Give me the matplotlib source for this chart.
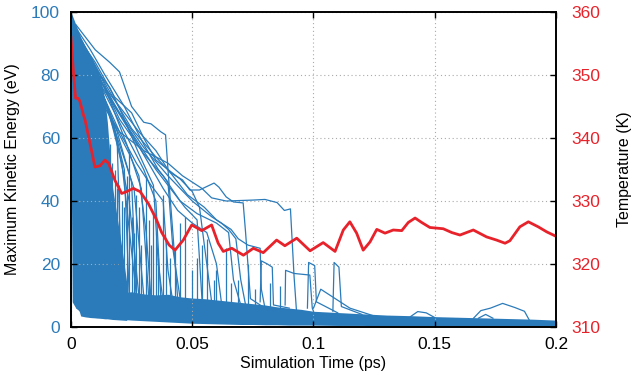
import matplotlib
matplotlib.use('Agg')
import matplotlib.pyplot as plt

plt.rcParams['font.family'] = ['Liberation Sans', 'DejaVu Sans']
plt.rcParams['font.size'] = 11.5

blue = '#2b7bba'
red = '#e8222a'

# temperature (K) vs simulation time (ps)
temp_t = [0.0, 0.001, 0.0019, 0.003, 0.0037, 0.0051, 0.0058, 0.0078, 0.0099, 0.012, 0.014,
          0.0155, 0.0181, 0.0209, 0.023, 0.0257, 0.0285, 0.0319, 0.0353, 0.0374, 0.0405,
          0.0429, 0.0463, 0.0498, 0.0539, 0.058, 0.0607, 0.0628, 0.0663, 0.0711, 0.0752,
          0.0793, 0.0848, 0.0882, 0.0931, 0.0986, 0.104, 0.1089, 0.1123, 0.115, 0.1178,
          0.1205, 0.1233, 0.1261, 0.1295, 0.1329, 0.1364, 0.1391, 0.1419, 0.1446, 0.148,
          0.1535, 0.157, 0.1604, 0.1659, 0.1714, 0.1755, 0.179, 0.181, 0.1851, 0.1886,
          0.1927, 0.1962, 0.2]
temp_k = [356.0, 350.5, 346.3, 346.3, 345.8, 343.7, 342.9, 339.2, 335.4, 335.6, 336.5,
          336.0, 333.3, 331.2, 331.5, 332.0, 331.5, 329.6, 327.0, 325.0, 323.0,
          322.2, 323.8, 326.2, 325.3, 326.2, 323.3, 322.0, 322.5, 321.4, 322.5,
          321.8, 323.8, 322.9, 324.1, 322.1, 323.4, 322.0, 325.4, 326.7, 324.9,
          322.2, 323.5, 325.5, 324.9, 325.4, 325.3, 326.6, 327.3, 326.6, 325.8,
          325.6, 325.0, 324.6, 325.4, 324.3, 323.8, 323.3, 323.7, 325.9, 326.7,
          325.9, 325.1, 324.4]

# dense early bundle of kinetic-energy traces (envelope, eV)
blob_t = [0.0, 0.0005, 0.002, 0.003, 0.004, 0.006, 0.008, 0.010, 0.012, 0.013, 0.014,
          0.015, 0.016, 0.017, 0.019, 0.021, 0.023]
blob_top = [100, 99, 96, 94, 92, 89, 86, 83, 80, 76, 72, 65, 55, 45, 35, 25, 14]
blob_bottom = [60, 8, 6, 6, 3.5, 3.2, 3.0, 2.9, 2.8, 2.7, 2.6, 2.6, 2.5, 2.4, 2.3, 2.2, 2.1]

# low band of thermalised traces (eV)
band_t = [0.002, 0.006, 0.01, 0.015, 0.02, 0.025, 0.03, 0.035, 0.04, 0.045, 0.05, 0.055,
          0.06, 0.065, 0.07, 0.075, 0.08, 0.085, 0.09, 0.095, 0.1, 0.11, 0.12, 0.13,
          0.14, 0.15, 0.16, 0.17, 0.18, 0.19, 0.2]
band_top = [11, 12, 11.5, 11, 10.8, 11.2, 10.5, 10.2, 10.4, 9.6, 9.2, 9.0, 8.6, 8.2, 7.8,
            7.4, 7.0, 6.4, 6.0, 5.6, 5.0, 4.6, 4.2, 3.8, 3.6, 3.3, 3.1, 2.9, 2.7, 2.5, 2.2]
band_bottom = [6, 3.5, 3.0, 2.8, 2.5, 2.2, 2.0, 1.8, 1.6, 1.4, 1.2, 1.1, 1.0, 0.9, 0.8,
               0.8, 0.7, 0.7, 0.6, 0.6, 0.6, 0.5, 0.5, 0.4, 0.4, 0.4, 0.3, 0.3, 0.3, 0.3, 0.3]

# individual traces that leave the bundle (time ps, energy eV)
ke_traces = [
    ([0.001, 0.006, 0.012, 0.02, 0.03, 0.04, 0.046, 0.05, 0.054, 0.058, 0.064, 0.075, 0.08,
      0.085, 0.088, 0.0905, 0.092, 0.093, 0.11, 0.15, 0.2],
     [96, 88, 72, 62, 56, 52, 48, 46, 44, 41, 40, 40.3, 40.5, 39.5, 37, 37.5, 16, 5, 3, 2, 1.2]),
    ([0.002, 0.008, 0.015, 0.025, 0.035, 0.041, 0.046, 0.049, 0.053, 0.059, 0.061, 0.064,
      0.067, 0.071, 0.072, 0.074, 0.08, 0.12],
     [94, 86, 76, 63, 54, 49, 46.7, 43.5, 43.5, 45.7, 44.4, 41.3, 39.7, 39.4, 30, 9, 6, 3]),
    ([0.002, 0.01, 0.016, 0.02, 0.025, 0.03, 0.033, 0.037, 0.039, 0.040, 0.042, 0.044, 0.05],
     [96, 88, 84, 81, 70, 65, 64.5, 62, 61, 50, 30, 9, 6]),
    ([0.003, 0.01, 0.018, 0.025, 0.03, 0.035, 0.045, 0.05, 0.053, 0.056, 0.058, 0.065],
     [92, 84, 73, 68, 60, 53, 47, 43, 38, 20, 8, 6]),
    ([0.004, 0.012, 0.02, 0.028, 0.035, 0.04, 0.048, 0.055, 0.06, 0.066, 0.069, 0.073, 0.078,
      0.0785, 0.08, 0.09],
     [90, 78, 70, 62, 56, 50, 42, 38, 34, 31, 28, 26, 25, 12, 6, 5]),
    ([0.003, 0.01, 0.02, 0.03, 0.038, 0.045, 0.052, 0.06, 0.065, 0.067, 0.07],
     [93, 82, 66, 55, 48, 40, 36, 33, 30, 15, 7]),
    ([0.002, 0.008, 0.014, 0.022, 0.03, 0.036, 0.04, 0.042, 0.045],
     [95, 88, 80, 70, 58, 50, 46, 25, 9]),
    ([0.004, 0.01, 0.016, 0.022, 0.028, 0.034, 0.036, 0.038],
     [90, 82, 76, 66, 55, 45, 20, 8]),
    ([0.005, 0.012, 0.02, 0.03, 0.04, 0.05, 0.058, 0.062, 0.065, 0.068, 0.07, 0.072],
     [88, 77, 68, 57, 48, 40, 35, 33, 31, 28, 15, 7]),
    ([0.004, 0.012, 0.018, 0.026, 0.032, 0.038, 0.044, 0.05, 0.056, 0.06, 0.062],
     [89, 80, 70, 60, 52, 44, 37, 33, 30, 20, 8]),
    ([0.003, 0.008, 0.013, 0.02, 0.027, 0.033, 0.038, 0.04, 0.042],
     [92, 85, 74, 62, 52, 45, 40, 18, 8]),
    ([0.006, 0.012, 0.018, 0.024, 0.028, 0.031, 0.033],
     [86, 75, 64, 55, 48, 30, 9]),
    ([0.005, 0.011, 0.017, 0.023, 0.029, 0.035, 0.041, 0.047, 0.052, 0.054],
     [88, 80, 72, 64, 57, 50, 44, 38, 34, 9]),
    ([0.007, 0.014, 0.02, 0.026, 0.03], [84, 72, 58, 44, 10]),
    ([0.004, 0.01, 0.015, 0.019, 0.021], [90, 80, 70, 60, 10]),
    ([0.005, 0.012, 0.017, 0.022, 0.024], [88, 76, 66, 50, 10]),
    ([0.006, 0.013, 0.019, 0.025, 0.027], [86, 74, 62, 46, 10]),
    ([0.003, 0.009, 0.016, 0.023, 0.029, 0.032], [92, 84, 72, 58, 44, 10]),
    ([0.008, 0.015, 0.021, 0.027], [82, 70, 52, 10]),
    ([0.005, 0.014, 0.022, 0.03, 0.035, 0.037], [88, 74, 62, 50, 40, 10]),
    ([0.01, 0.018, 0.024, 0.028], [80, 62, 40, 10]),
    # rectangular pulses after 0.075 ps
    ([0.078, 0.0785, 0.081, 0.083, 0.0835, 0.09], [8, 21, 20, 19, 7, 6]),
    ([0.0883, 0.0885, 0.092, 0.0985, 0.0995, 0.1], [7, 18, 17, 16.5, 6, 5]),
    ([0.0975, 0.098, 0.1005, 0.1012, 0.11], [6, 20.5, 19.5, 8, 4.5]),
    ([0.108, 0.1085, 0.1105, 0.1115, 0.12], [5, 20.5, 19, 6.5, 4]),
    ([0.1, 0.103, 0.115, 0.125], [6, 12, 6, 3.5]),
    # late bumps
    ([0.14, 0.143, 0.1465, 0.15], [3.3, 4.9, 4.5, 3.0]),
    ([0.166, 0.169, 0.173, 0.178, 0.183, 0.187, 0.189], [2.8, 5.2, 6, 7.5, 6.2, 5, 2.2]),
    ([0.168, 0.171, 0.174], [2.8, 4.0, 2.8]),
]

# short vertical spikes out of the low band
spike_t = [0.016, 0.017, 0.018, 0.019, 0.02, 0.021, 0.022, 0.023, 0.024, 0.025, 0.026,
           0.027, 0.028, 0.029, 0.031, 0.032, 0.033, 0.034, 0.035, 0.036, 0.038, 0.039,
           0.041, 0.043, 0.045, 0.047, 0.05, 0.052, 0.054, 0.056, 0.059, 0.06, 0.064,
           0.066, 0.069, 0.073, 0.076, 0.082, 0.086]
spike_top = [58, 52, 50, 44, 45, 40, 38, 48, 55, 35, 30, 42, 38, 26, 48, 34, 26, 36, 30,
             22, 42, 28, 22, 25, 33, 35, 18, 22, 26, 28, 15, 18, 25, 14, 15, 20, 12, 14, 13]
spike_base = [10, 10, 10, 10, 10, 10, 10, 10, 10, 10, 10, 10, 10, 10, 10, 10, 10, 10, 10,
              10, 9, 9, 9, 9, 9, 9, 9, 9, 9, 8, 8, 8, 8, 8, 7, 7, 7, 6, 6]

fig = plt.figure(figsize=(6.31, 3.85), dpi=100)
ax = fig.add_axes([0.1125, 0.1506, 0.7686, 0.8182])
ax2 = ax.twinx()

ax.fill_between(blob_t, blob_bottom, blob_top, color=blue, lw=0)
ax.fill_between(band_t, band_bottom, band_top, color=blue, lw=0)
for tt, vv in ke_traces:
    ax.plot(tt, vv, color=blue, lw=0.9)
ax.vlines(spike_t, spike_base, spike_top, color=blue, lw=0.9)

ax2.plot(temp_t, temp_k, color=red, lw=2)

ax.set_xlim(0, 0.2)
ax.set_ylim(0, 100)
ax2.set_ylim(310, 360)
ax.set_xticks([0, 0.05, 0.1, 0.15, 0.2])
ax.set_xticklabels(['0', '0.05', '0.1', '0.15', '0.2'])
ax.set_yticks([0, 20, 40, 60, 80, 100])
ax2.set_yticks([310, 320, 330, 340, 350, 360])

ax.grid(True, color='#aaaaaa', linestyle=(0, (1, 2.5)), lw=0.8)
ax.tick_params(axis='both', direction='in', top=True, length=4, width=1, labelsize=12.5)
ax.tick_params(axis='x', pad=7)
ax.tick_params(axis='y', colors='black', labelcolor=blue, right=False, pad=8)
ax2.tick_params(axis='y', direction='in', length=4, width=1, labelcolor=red, pad=11,
                labelsize=12.5)
for a in (ax, ax2):
    for s in a.spines.values():
        s.set_linewidth(1.2)

ax.set_xlabel('Simulation Time (ps)', labelpad=3)
ax.set_ylabel('Maximum Kinetic Energy (eV)', labelpad=8)
ax2.set_ylabel('Temperature (K)', labelpad=12)

fig.savefig('out.png', dpi=100)
